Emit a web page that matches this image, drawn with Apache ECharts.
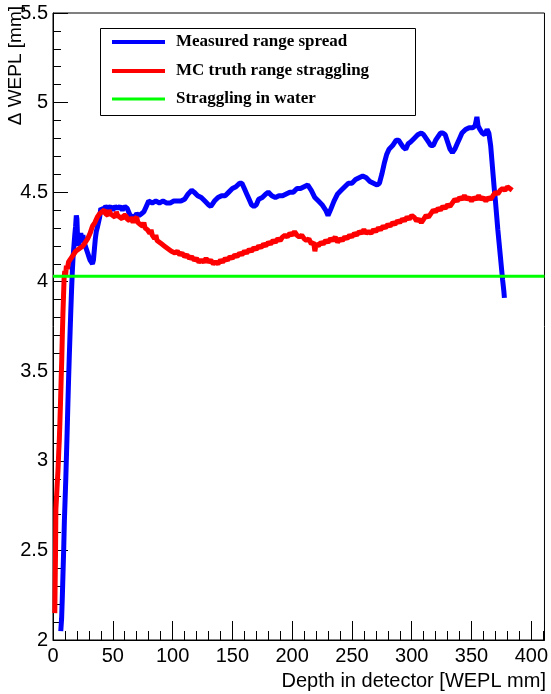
<!DOCTYPE html>
<html>
<head>
<meta charset="utf-8">
<script src="https://cdn.jsdelivr.net/npm/echarts@6/dist/echarts.min.js"></script>
<style>
  html, body { margin: 0; padding: 0; background: #fff; }
  #chart { width: 551px; height: 694px; }
</style>
</head>
<body>
<div id="chart"></div>
<script>
// Axis ranges and ticks
const xTicks = [0, 50, 100, 150, 200, 250, 300, 350, 400];
const xRange = [0, 411];
const yTicks = [2, 2.5, 3, 3.5, 4, 4.5, 5, 5.5];

// Measured range spread (blue)
const blueX = [6.5,7.2,7.8,8.4,9.0,9.5,10.1,10.7,11.3,11.9,12.5,13.1,13.7,14.3,14.9,15.5,16.1,16.8,17.5,18.2,18.9,19.5,20.0,20.6,21.4,22.3,23.2,24.1,25.0,26.0,27.0,28.0,29.0,30.0,31.0,32.0,33.0,33.8,34.6,35.4,36.2,37.0,38.0,39.0,40.0,42,44,46,48,50,52,54,56,58,60,62,63.5,64.5,66,68,70,72,74,76,78,80,83,86,89,92,95,98,101,104,107,110,113,116,118,121,124,127,130,132,135,138,141,144,147,150,153,156,158,160,162,164,166,168,170,172,175,178,180,183,186,189,192,195,198,201,204,207,210,213,216,219,222,225,228,230,232,235,238,241,244,247,250,253,256,259,262,265,268,271,273,275,277,279,281,284,287,289,291,293,295,297,299,302,305,308,310,312,314,316,318,320,322,324,326,328,330,332,334,336,338,340,342,345,348,351,353,354.5,355.5,357,359,361,363,364.5,366,367,368,369,370,371,372,373,374,375,376,377,377.5];
const blueY = [2.05,2.12,2.24,2.38,2.52,2.66,2.78,2.90,3.04,3.18,3.33,3.47,3.60,3.72,3.84,3.95,4.05,4.14,4.20,4.26,4.31,4.37,4.35,4.24,4.20,4.25,4.27,4.24,4.26,4.22,4.20,4.18,4.16,4.14,4.12,4.11,4.10,4.12,4.18,4.24,4.28,4.30,4.31,4.36,4.41,4.40,4.42,4.41,4.42,4.40,4.42,4.41,4.42,4.40,4.42,4.41,4.42,4.37,4.38,4.36,4.38,4.37,4.38,4.39,4.42,4.45,4.44,4.45,4.44,4.45,4.44,4.44,4.45,4.45,4.45,4.46,4.49,4.51,4.50,4.48,4.47,4.45,4.43,4.42,4.45,4.47,4.48,4.48,4.50,4.52,4.53,4.55,4.55,4.52,4.49,4.46,4.43,4.42,4.43,4.46,4.47,4.49,4.50,4.48,4.47,4.48,4.48,4.49,4.50,4.50,4.52,4.52,4.53,4.54,4.51,4.47,4.45,4.43,4.40,4.37,4.40,4.45,4.49,4.51,4.53,4.55,4.55,4.57,4.58,4.59,4.58,4.56,4.55,4.54,4.55,4.60,4.66,4.71,4.74,4.76,4.79,4.79,4.77,4.75,4.74,4.77,4.78,4.80,4.82,4.83,4.82,4.80,4.78,4.76,4.76,4.79,4.81,4.83,4.83,4.82,4.78,4.74,4.72,4.74,4.77,4.80,4.83,4.85,4.86,4.86,4.87,4.92,4.87,4.85,4.83,4.82,4.85,4.83,4.76,4.68,4.60,4.52,4.45,4.37,4.29,4.22,4.15,4.08,4.01,3.95,3.91];

// MC truth range straggling (red)
const redX = [1.5,1.8,2.1,2.4,3.0,3.6,4.2,4.8,5.3,5.8,6.3,6.8,7.3,7.8,8.3,8.8,9.3,9.8,10.5,11.2,12,13,14,15,16,17,18,19,20,21,22,23,24,25,26,27,28,29,30,31,32,33,34,35,36,37,38,39,40,41,42,43,44,45,46,47,48,49,50,51,52,53,54,55,56,57,58,59,60,61,62,63,64,65,66,67,68,69,70,71,72,73,74,75,76,77,78,79,80,81,82,83,84,85,86,87,88,89,90,91,92,93,94,95,96,97,98,99,100,102,104,106,108,110,112,114,116,118,120,122,124,126,128,130,132,134,136,138,140,142,144,146,148,150,152,154,156,158,160,162,164,166,168,170,172,174,176,178,180,182,184,186,188,190,192,194,196,198,200,202,204,206,208,210,212,214,216,218,219,220,222,224,226,228,230,232,234,236,238,240,242,244,246,248,250,252,254,256,258,260,262,264,266,268,270,272,274,276,278,280,282,284,286,288,290,292,294,296,298,300,302,304,306,308,310,312,314,316,318,320,322,324,326,328,330,332,334,336,338,340,342,344,346,348,350,352,354,356,358,360,362,364,366,368,370,372,374,376,378,380,382,384];
const redY = [2.15,2.32,2.48,2.73,2.80,2.88,2.95,3.05,3.12,3.22,3.33,3.45,3.56,3.70,3.82,3.92,4.02,4.06,4.03,4.09,4.07,4.11,4.10,4.13,4.12,4.15,4.14,4.17,4.16,4.18,4.17,4.19,4.18,4.20,4.19,4.22,4.21,4.24,4.23,4.27,4.28,4.31,4.30,4.33,4.34,4.36,4.35,4.38,4.37,4.39,4.38,4.40,4.38,4.39,4.37,4.40,4.38,4.39,4.37,4.38,4.36,4.39,4.37,4.38,4.36,4.37,4.35,4.37,4.36,4.37,4.35,4.36,4.34,4.36,4.35,4.33,4.35,4.34,4.36,4.33,4.34,4.32,4.33,4.31,4.33,4.30,4.31,4.29,4.30,4.27,4.29,4.26,4.27,4.24,4.26,4.23,4.24,4.22,4.23,4.21,4.22,4.20,4.21,4.19,4.20,4.18,4.19,4.17,4.18,4.16,4.17,4.15,4.16,4.14,4.15,4.13,4.14,4.12,4.13,4.11,4.12,4.11,4.13,4.11,4.12,4.10,4.11,4.10,4.12,4.11,4.13,4.12,4.14,4.13,4.15,4.14,4.16,4.15,4.17,4.16,4.18,4.17,4.19,4.18,4.20,4.19,4.21,4.20,4.22,4.21,4.23,4.22,4.24,4.23,4.25,4.26,4.25,4.27,4.26,4.28,4.26,4.25,4.26,4.24,4.23,4.24,4.21,4.22,4.17,4.21,4.20,4.22,4.21,4.23,4.22,4.24,4.23,4.25,4.22,4.24,4.23,4.25,4.24,4.26,4.25,4.27,4.26,4.28,4.27,4.29,4.27,4.28,4.27,4.29,4.28,4.30,4.29,4.31,4.30,4.32,4.31,4.33,4.32,4.34,4.33,4.35,4.34,4.36,4.35,4.37,4.36,4.34,4.35,4.33,4.35,4.37,4.36,4.38,4.40,4.39,4.41,4.40,4.42,4.41,4.43,4.42,4.44,4.46,4.45,4.47,4.46,4.48,4.46,4.47,4.45,4.47,4.46,4.48,4.46,4.47,4.45,4.47,4.46,4.48,4.50,4.49,4.51,4.52,4.51,4.53,4.52,4.51];

// Straggling in water (green), constant level
const waterX = [0, 411];
const waterLevel = 4.03;

const legendNames = ['Measured range spread', 'MC truth range straggling', 'Straggling in water'];
const colors = ['#0000ff', '#ff0000', '#00ff00'];

const pair = (xs, ys) => xs.map((x, i) => [x, ys[i]]);

const chart = echarts.init(document.getElementById('chart'), null, { renderer: 'canvas' });

const sansFont = 'Liberation Sans, Arial, Helvetica, sans-serif';
const serifFont = 'Liberation Serif, Times New Roman, serif';

// legend box
const legBox = { x: 100, y: 28, w: 315, h: 87 };
const legRows = [42, 71, 99];
const legendGraphics = [{
  type: 'rect',
  shape: { x: legBox.x + 0.5, y: legBox.y + 0.5, width: legBox.w, height: legBox.h },
  style: { fill: '#fff', stroke: '#000', lineWidth: 1 },
  z: 10
}];
legendNames.forEach((name, i) => {
  legendGraphics.push({
    type: 'line',
    shape: { x1: 112, y1: legRows[i], x2: 165, y2: legRows[i] },
    style: { stroke: colors[i], lineWidth: i === 2 ? 3 : 4 },
    z: 11
  });
  legendGraphics.push({
    type: 'text',
    x: 176, y: legRows[i],
    style: { text: name, fill: '#000', font: 'bold 17px ' + serifFont, textVerticalAlign: 'middle', textAlign: 'left' },
    z: 11
  });
});

chart.setOption({
  animation: false,
  backgroundColor: '#fff',
  grid: { left: 53, right: 6, top: 13, bottom: 54, show: true, borderColor: '#000', borderWidth: 1, backgroundColor: 'transparent' },
  xAxis: {
    type: 'value',
    min: xRange[0], max: xRange[1], interval: xTicks[1] - xTicks[0],
    axisLine: { show: true, lineStyle: { color: '#000', width: 1 } },
    axisTick: { show: true, inside: true, length: 19, lineStyle: { color: '#000' } },
    minorTick: { show: true, splitNumber: 5, length: 9, lineStyle: { color: '#000' } },
    splitLine: { show: false },
    axisLabel: {
      color: '#000', fontSize: 20, fontFamily: sansFont, margin: 6, showMaxLabel: false,
      formatter: v => (xTicks.indexOf(v) >= 0 ? String(v) : '')
    }
  },
  yAxis: {
    type: 'value',
    min: yTicks[0], max: yTicks[yTicks.length - 1], interval: 0.5,
    axisLine: { show: true, lineStyle: { color: '#000', width: 1 } },
    axisTick: { show: true, inside: true, length: 15, lineStyle: { color: '#000' } },
    minorTick: { show: true, splitNumber: 5, length: 8, lineStyle: { color: '#000' } },
    splitLine: { show: false },
    axisLabel: { color: '#000', fontSize: 20, fontFamily: sansFont, margin: 5 }
  },
  graphic: legendGraphics.concat([
    {
      type: 'text', x: 546, y: 681,
      style: { text: 'Depth in detector [WEPL mm]', fill: '#000', font: '20px ' + sansFont, textAlign: 'right', textVerticalAlign: 'middle' }
    },
    {
      type: 'text', x: 16, y: 6, rotation: Math.PI / 2,
      style: { text: 'Δ WEPL [mm]', fill: '#000', font: '19px ' + sansFont, textAlign: 'right', textVerticalAlign: 'middle' }
    }
  ]),
  series: [
    {
      name: legendNames[0], type: 'line', data: pair(blueX, blueY),
      showSymbol: false, lineStyle: { color: colors[0], width: 5 }, z: 2
    },
    {
      name: legendNames[1], type: 'line', data: pair(redX, redY),
      showSymbol: false, lineStyle: { color: colors[1], width: 5 }, z: 3
    },
    {
      name: legendNames[2], type: 'line', data: waterX.map(x => [x, waterLevel]),
      showSymbol: false, lineStyle: { color: colors[2], width: 3 }, z: 4
    }
  ]
});
</script>
</body>
</html>
